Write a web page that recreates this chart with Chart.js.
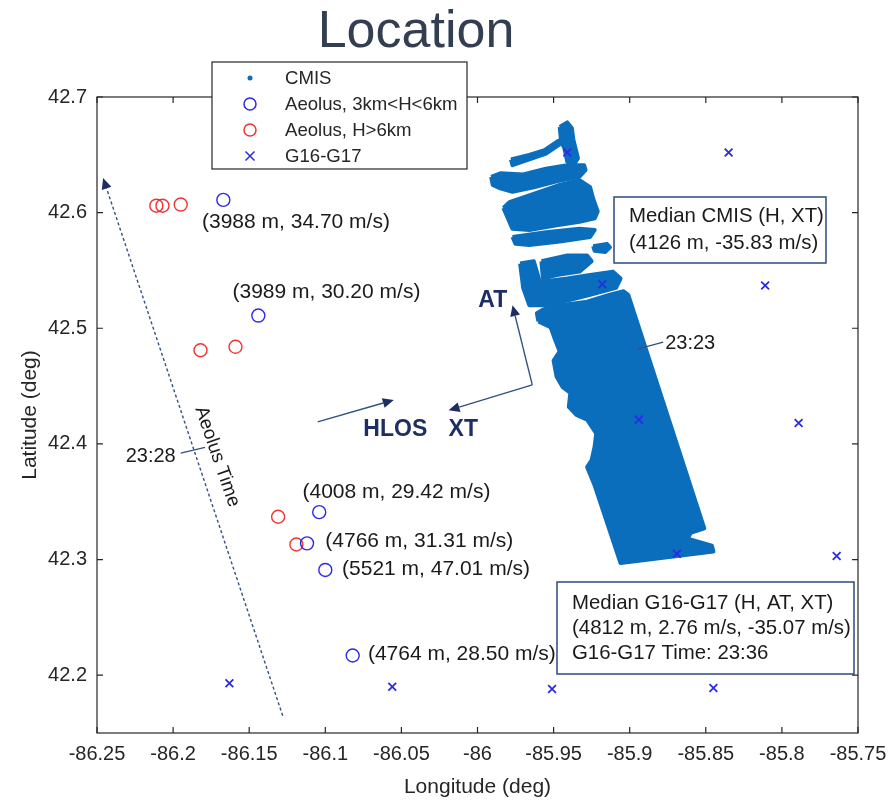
<!DOCTYPE html>
<html>
<head>
<meta charset="utf-8">
<title>Location</title>
<script src="https://cdn.jsdelivr.net/npm/chart.js@4.4.1/dist/chart.umd.min.js"></script>
<style>
  html, body { margin: 0; padding: 0; background: #fff; }
  #wrap { width: 889px; height: 802px; }
</style>
</head>
<body>
<div id="wrap"><canvas id="mainChart" width="889" height="802"></canvas></div>
<script>
// Axis ticks
const xTicks = [-86.25, -86.2, -86.15, -86.1, -86.05, -86, -85.95, -85.9, -85.85, -85.8, -85.75];
const xTickLabels = ['-86.25', '-86.2', '-86.15', '-86.1', '-86.05', '-86', '-85.95', '-85.9', '-85.85', '-85.8', '-85.75'];
const yTicks = [42.2, 42.3, 42.4, 42.5, 42.6, 42.7];
const yTickLabels = ['42.2', '42.3', '42.4', '42.5', '42.6', '42.7'];

// Aeolus, 3km<H<6km
const aeolusMidLon = [-86.167, -86.144, -86.104, -86.112, -86.100, -86.082];
const aeolusMidLat = [42.611, 42.511, 42.341, 42.314, 42.291, 42.217];
const aeolusMidLabels = ['(3988 m, 34.70 m/s)', '(3989 m, 30.20 m/s)', '(4008 m, 29.42 m/s)',
  '(4766 m, 31.31 m/s)', '(5521 m, 47.01 m/s)', '(4764 m, 28.50 m/s)'];
const labelLon = [-86.181, -86.161, -86.115, -86.100, -86.089, -86.072];
const labelLat = [42.592, 42.531, 42.358, 42.316, 42.292, 42.218];

// Aeolus, H>6km
const aeolusHighLon = [-86.211, -86.207, -86.195, -86.182, -86.159, -86.131, -86.119];
const aeolusHighLat = [42.606, 42.606, 42.607, 42.481, 42.484, 42.337, 42.313];

// G16-G17
const goesLon = [-85.941, -85.835, -85.918, -85.811, -85.894, -85.789, -85.869, -85.764, -86.163, -86.056, -85.951, -85.845];
const goesLat = [42.652, 42.652, 42.538, 42.537, 42.421, 42.418, 42.305, 42.303, 42.193, 42.190, 42.188, 42.189];

// CMIS swath outlines [lon, lat]
const cmisMain = [[-85.960, 42.506], [-85.961, 42.513], [-85.957, 42.516], [-85.950, 42.519], [-85.928, 42.523],
  [-85.913, 42.529], [-85.904, 42.532], [-85.901, 42.529], [-85.851, 42.327], [-85.860, 42.323], [-85.862, 42.318],
  [-85.846, 42.312], [-85.845, 42.307], [-85.906, 42.297], [-85.923, 42.364], [-85.928, 42.380], [-85.925, 42.386],
  [-85.923, 42.398], [-85.922, 42.409], [-85.928, 42.421], [-85.935, 42.425], [-85.940, 42.432], [-85.939, 42.444],
  [-85.944, 42.449], [-85.948, 42.458], [-85.950, 42.472], [-85.946, 42.480], [-85.949, 42.490], [-85.952, 42.501]];
const cmisTop = [[-85.946, 42.674], [-85.941, 42.678], [-85.938, 42.673], [-85.937, 42.663], [-85.934, 42.647],
  [-85.936, 42.643], [-85.941, 42.644], [-85.943, 42.656], [-85.945, 42.661]];
const cmisDots = [[-85.978, 42.646], [-85.966, 42.650], [-85.956, 42.654], [-85.947, 42.662], [-85.946, 42.659],
  [-85.955, 42.651], [-85.964, 42.647], [-85.977, 42.641]];
const cmisStreak1 = [[-85.991, 42.631], [-85.985, 42.634], [-85.970, 42.633], [-85.955, 42.638], [-85.941, 42.641],
  [-85.930, 42.641], [-85.929, 42.637], [-85.933, 42.631], [-85.948, 42.627], [-85.963, 42.622], [-85.977, 42.618],
  [-85.985, 42.621], [-85.990, 42.624]];
const cmisBlock = [[-85.983, 42.604], [-85.979, 42.609], [-85.966, 42.615], [-85.946, 42.624], [-85.933, 42.628],
  [-85.926, 42.622], [-85.924, 42.612], [-85.921, 42.601], [-85.923, 42.595], [-85.933, 42.592], [-85.948, 42.589],
  [-85.966, 42.585], [-85.977, 42.586], [-85.981, 42.598]];
const cmisStreak2 = [[-85.977, 42.579], [-85.955, 42.583], [-85.933, 42.586], [-85.923, 42.585], [-85.926, 42.579],
  [-85.946, 42.575], [-85.966, 42.572], [-85.975, 42.573]];
const cmisSpot = [[-85.924, 42.571], [-85.915, 42.573], [-85.913, 42.570], [-85.916, 42.566], [-85.923, 42.567]];
const cmisStreak3 = [[-85.958, 42.558], [-85.941, 42.563], [-85.928, 42.563], [-85.925, 42.558], [-85.933, 42.549],
  [-85.948, 42.546], [-85.957, 42.543]];
const cmisStreak4 = [[-85.972, 42.556], [-85.963, 42.558], [-85.959, 42.540], [-85.941, 42.543], [-85.926, 42.546],
  [-85.911, 42.549], [-85.906, 42.543], [-85.909, 42.535], [-85.926, 42.529], [-85.941, 42.524], [-85.955, 42.520],
  [-85.966, 42.520], [-85.970, 42.535]];
const cmisShapes = [cmisMain, cmisTop, cmisDots, cmisStreak1, cmisBlock, cmisStreak2, cmisSpot, cmisStreak3, cmisStreak4];

// Annotation geometry (lon, lat)
const aeolusTrack = [[-86.128, 42.165], [-86.246, 42.630]];
const tick2328 = [[-86.195, 42.392], [-86.179, 42.397]];
const tick2323 = [[-85.895, 42.482], [-85.878, 42.488]];
const hlosArrow = [[-86.105, 42.419], [-86.055, 42.438]];
const xtArrow = [[-85.964, 42.451], [-86.019, 42.429]];
const atArrow = [[-85.964, 42.451], [-85.977, 42.520]];

const FONT = '"Liberation Sans", Arial, sans-serif';
const TEXT = '#262626';
const NAVY = '#1d2f62';
const CMIS_BLUE = '#0a6ebd';

const toXY = (lons, lats) => lons.map((x, i) => ({ x, y: lats[i] }));
const ring = pts => pts.concat([pts[0]]).map(([x, y]) => ({ x, y }));

function arrow(ctx, x1, y1, x2, y2, len, half, dash) {
  const ang = Math.atan2(y2 - y1, x2 - x1);
  const bx = x2 - len * Math.cos(ang), by = y2 - len * Math.sin(ang);
  ctx.save();
  ctx.strokeStyle = '#34507f';
  ctx.lineWidth = 1.4;
  if (dash) ctx.setLineDash(dash);
  ctx.beginPath();
  ctx.moveTo(x1, y1);
  ctx.lineTo(bx, by);
  ctx.stroke();
  ctx.setLineDash([]);
  ctx.fillStyle = NAVY;
  ctx.beginPath();
  ctx.moveTo(x2, y2);
  ctx.lineTo(bx + half * Math.sin(ang), by - half * Math.cos(ang));
  ctx.lineTo(bx - half * Math.sin(ang), by + half * Math.cos(ang));
  ctx.closePath();
  ctx.fill();
  ctx.restore();
}

const overlayPlugin = {
  id: 'overlay',
  afterDatasetsDraw(chart) {
    const { ctx, chartArea: a, scales: { x, y } } = chart;
    const px = v => x.getPixelForValue(v);
    const py = v => y.getPixelForValue(v);
    ctx.save();

    // Frame with inward ticks
    ctx.strokeStyle = TEXT;
    ctx.lineWidth = 1.2;
    ctx.strokeRect(a.left, a.top, a.right - a.left, a.bottom - a.top);
    ctx.beginPath();
    xTicks.forEach(v => {
      const X = px(v);
      ctx.moveTo(X, a.bottom); ctx.lineTo(X, a.bottom - 6);
      ctx.moveTo(X, a.top); ctx.lineTo(X, a.top + 6);
    });
    yTicks.forEach(v => {
      const Y = py(v);
      ctx.moveTo(a.left, Y); ctx.lineTo(a.left + 6, Y);
      ctx.moveTo(a.right, Y); ctx.lineTo(a.right - 6, Y);
    });
    ctx.stroke();

    // Aeolus track arrow and time ticks
    arrow(ctx, px(aeolusTrack[0][0]), py(aeolusTrack[0][1]), px(aeolusTrack[1][0]), py(aeolusTrack[1][1]), 11, 5, [3, 2.5]);
    ctx.strokeStyle = '#34507f';
    ctx.lineWidth = 1.4;
    [tick2328, tick2323].forEach(t => {
      ctx.beginPath();
      ctx.moveTo(px(t[0][0]), py(t[0][1]));
      ctx.lineTo(px(t[1][0]), py(t[1][1]));
      ctx.stroke();
    });

    // Wind direction arrows
    [hlosArrow, xtArrow, atArrow].forEach(s => {
      arrow(ctx, px(s[0][0]), py(s[0][1]), px(s[1][0]), py(s[1][1]), 11, 5);
    });

    // Text labels
    ctx.fillStyle = '#1a1a1a';
    ctx.textBaseline = 'middle';
    ctx.textAlign = 'left';
    ctx.font = '21px ' + FONT;
    aeolusMidLabels.forEach((t, i) => ctx.fillText(t, px(labelLon[i]), py(labelLat[i])));
    ctx.font = '20px ' + FONT;
    ctx.fillText('23:23', px(tick2323[1][0]) + 2, py(tick2323[1][1]) + 1);
    ctx.textAlign = 'right';
    ctx.fillText('23:28', px(tick2328[0][0]) - 5, py(tick2328[0][1]) + 3);

    ctx.save();
    ctx.translate(px(-86.171), py(42.389));
    ctx.rotate(71 * Math.PI / 180);
    ctx.textAlign = 'center';
    ctx.font = '19px ' + FONT;
    ctx.fillText('Aeolus Time', 0, 0);
    ctx.restore();

    ctx.fillStyle = NAVY;
    ctx.font = 'bold 23px ' + FONT;
    ctx.textAlign = 'center';
    ctx.fillText('AT', px(-85.990), py(42.524));
    ctx.textAlign = 'left';
    ctx.fillText('HLOS', px(-86.075), py(42.412));
    ctx.fillText('XT', px(-86.019), py(42.412));

    // Legend
    const lg = { x: 212, y: 62, w: 255, h: 107 };
    ctx.fillStyle = '#fff';
    ctx.fillRect(lg.x, lg.y, lg.w, lg.h);
    ctx.strokeStyle = TEXT;
    ctx.lineWidth = 1.2;
    ctx.strokeRect(lg.x, lg.y, lg.w, lg.h);
    const rows = [
      { text: 'CMIS', kind: 'dot', color: CMIS_BLUE },
      { text: 'Aeolus, 3km<H<6km', kind: 'circle', color: '#2a2ae8' },
      { text: 'Aeolus, H>6km', kind: 'circle', color: '#ee3434' },
      { text: 'G16-G17', kind: 'x', color: '#2a2ae8' }
    ];
    ctx.font = '18.6px ' + FONT;
    rows.forEach((r, i) => {
      const cy = lg.y + 16 + i * 26;
      const cx = lg.x + 38;
      ctx.strokeStyle = r.color;
      ctx.fillStyle = r.color;
      ctx.lineWidth = 1.5;
      ctx.beginPath();
      if (r.kind === 'dot') {
        ctx.arc(cx, cy, 2.5, 0, Math.PI * 2);
        ctx.fill();
      } else if (r.kind === 'circle') {
        ctx.arc(cx, cy, 6, 0, Math.PI * 2);
        ctx.stroke();
      } else {
        ctx.moveTo(cx - 4.5, cy - 4.5); ctx.lineTo(cx + 4.5, cy + 4.5);
        ctx.moveTo(cx + 4.5, cy - 4.5); ctx.lineTo(cx - 4.5, cy + 4.5);
        ctx.stroke();
      }
      ctx.fillStyle = TEXT;
      ctx.textAlign = 'left';
      ctx.fillText(r.text, lg.x + 73, cy + 1);
    });

    // Median boxes
    const boxes = [
      { x: 614, y: 197, w: 212, h: 66, lines: ['Median CMIS (H, XT)', '(4126 m, -35.83 m/s)'], top: 19, gap: 27 },
      { x: 557, y: 582, w: 297, h: 92, lines: ['Median G16-G17 (H, AT, XT)', '(4812 m, 2.76 m/s, -35.07 m/s)', 'G16-G17 Time: 23:36'], top: 21, gap: 25 }
    ];
    ctx.font = '20.4px ' + FONT;
    boxes.forEach(b => {
      ctx.fillStyle = '#fff';
      ctx.fillRect(b.x, b.y, b.w, b.h);
      ctx.strokeStyle = '#2d4a7e';
      ctx.lineWidth = 1.5;
      ctx.strokeRect(b.x, b.y, b.w, b.h);
      ctx.fillStyle = '#1a1a1a';
      b.lines.forEach((t, i) => ctx.fillText(t, b.x + 15, b.y + b.top + i * b.gap));
    });

    // Title
    ctx.fillStyle = '#333f50';
    ctx.font = '52px ' + FONT;
    ctx.textAlign = 'center';
    ctx.textBaseline = 'alphabetic';
    ctx.fillText('Location', 416, 47);
    ctx.restore();
  }
};

const datasets = [
  {
    label: 'G16-G17', data: toXY(goesLon, goesLat), pointStyle: 'crossRot', pointRadius: 5.5,
    borderColor: '#2a2ae8', borderWidth: 1.8, backgroundColor: 'transparent'
  },
  {
    label: 'Aeolus, 3km<H<6km', data: toXY(aeolusMidLon, aeolusMidLat), pointStyle: 'circle', pointRadius: 6.5,
    borderColor: '#2a2ae8', borderWidth: 1.4, backgroundColor: 'transparent'
  },
  {
    label: 'Aeolus, H>6km', data: toXY(aeolusHighLon, aeolusHighLat), pointStyle: 'circle', pointRadius: 6.5,
    borderColor: '#ee3434', borderWidth: 1.4, backgroundColor: 'transparent'
  }
].concat(cmisShapes.map(s => ({
  label: 'CMIS', data: ring(s), showLine: true, fill: 'shape', tension: 0,
  pointRadius: 0, borderColor: CMIS_BLUE, borderWidth: 4, borderJoinStyle: 'round', backgroundColor: CMIS_BLUE
})));

new Chart(document.getElementById('mainChart').getContext('2d'), {
  type: 'scatter',
  data: { datasets },
  options: {
    responsive: false,
    animation: false,
    layout: { padding: { top: 97, right: 31, left: 0, bottom: 0 } },
    plugins: { legend: { display: false }, tooltip: { enabled: false }, title: { display: false } },
    scales: {
      x: {
        type: 'linear', min: -86.25, max: -85.75,
        afterBuildTicks: s => { s.ticks = xTicks.map(v => ({ value: v })); },
        afterFit: s => { s.height = 69; s.paddingLeft = 0; s.paddingRight = 0; },
        grid: { display: false, drawTicks: false },
        border: { display: false },
        ticks: {
          autoSkip: false, maxRotation: 0, padding: 9, color: TEXT,
          font: { family: FONT, size: 20 },
          callback: v => xTickLabels[xTicks.findIndex(t => Math.abs(t - v) < 1e-6)]
        },
        title: { display: true, text: 'Longitude (deg)', color: TEXT, font: { family: FONT, size: 21 }, padding: { top: 0, bottom: 2 } }
      },
      y: {
        type: 'linear', min: 42.15, max: 42.7,
        afterBuildTicks: s => { s.ticks = yTicks.map(v => ({ value: v })); },
        afterFit: s => { s.width = 97; s.paddingTop = 0; s.paddingBottom = 0; },
        grid: { display: false, drawTicks: false },
        border: { display: false },
        ticks: {
          autoSkip: false, padding: 10, color: TEXT,
          font: { family: FONT, size: 20 },
          callback: v => yTickLabels[yTicks.findIndex(t => Math.abs(t - v) < 1e-6)]
        },
        title: { display: true, text: 'Latitude (deg)', color: TEXT, font: { family: FONT, size: 21 }, padding: { top: 18, bottom: 0 } }
      }
    }
  },
  plugins: [overlayPlugin]
});
</script>
</body>
</html>
